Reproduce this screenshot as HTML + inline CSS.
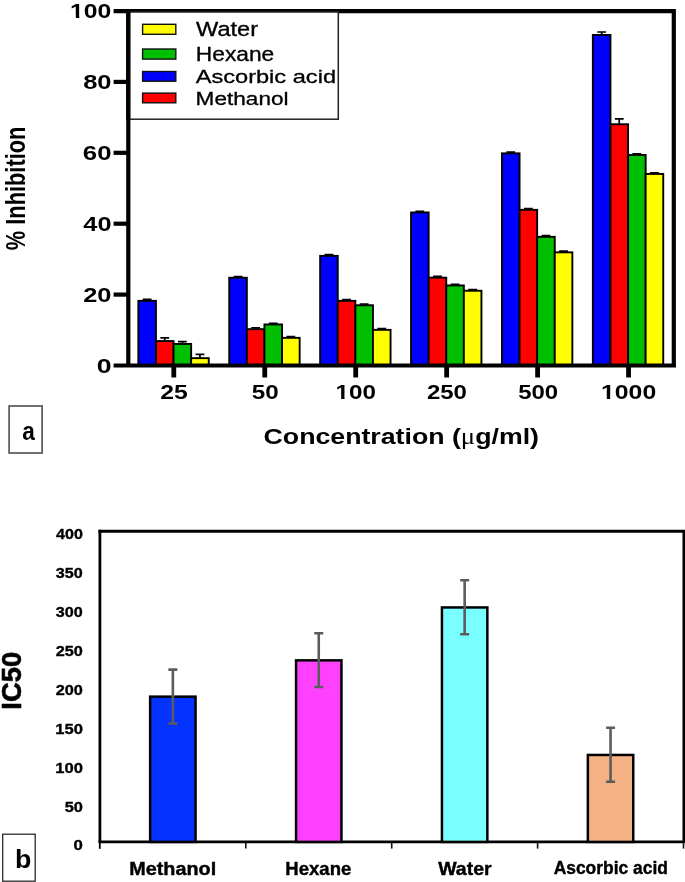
<!DOCTYPE html>
<html><head><meta charset="utf-8"><title>chart</title>
<style>html,body{margin:0;padding:0;background:#fff;}svg{display:block;will-change:transform;}text{font-family:"Liberation Sans",sans-serif;}</style>
</head><body>
<svg width="685" height="882" viewBox="0 0 685 882">
<rect width="685" height="882" fill="#fff"/>
<rect x="138.35" y="300.85" width="17.60" height="64.65" fill="#0000FF" stroke="#000" stroke-width="1.9"/>
<rect x="155.95" y="341.05" width="17.60" height="24.45" fill="#FF0000" stroke="#000" stroke-width="1.9"/>
<rect x="173.55" y="343.95" width="17.60" height="21.55" fill="#00BE00" stroke="#000" stroke-width="1.9"/>
<rect x="191.15" y="358.15" width="17.60" height="7.35" fill="#FFFF00" stroke="#000" stroke-width="1.9"/>
<path d="M147.15 300.85V299.40M142.75 299.40H151.55" stroke="#000" stroke-width="1.7" fill="none"/>
<path d="M164.75 341.05V337.80M160.35 337.80H169.15" stroke="#000" stroke-width="1.7" fill="none"/>
<path d="M182.35 343.95V341.70M177.95 341.70H186.75" stroke="#000" stroke-width="1.7" fill="none"/>
<path d="M199.95 358.15V354.30M195.55 354.30H204.35" stroke="#000" stroke-width="1.7" fill="none"/>
<rect x="229.25" y="277.75" width="17.60" height="87.75" fill="#0000FF" stroke="#000" stroke-width="1.9"/>
<rect x="246.85" y="329.15" width="17.60" height="36.35" fill="#FF0000" stroke="#000" stroke-width="1.9"/>
<rect x="264.45" y="324.45" width="17.60" height="41.05" fill="#00BE00" stroke="#000" stroke-width="1.9"/>
<rect x="282.05" y="337.85" width="17.60" height="27.65" fill="#FFFF00" stroke="#000" stroke-width="1.9"/>
<path d="M238.05 277.75V276.55M233.65 276.55H242.45" stroke="#000" stroke-width="1.7" fill="none"/>
<path d="M255.65 329.15V327.95M251.25 327.95H260.05" stroke="#000" stroke-width="1.7" fill="none"/>
<path d="M273.25 324.45V323.25M268.85 323.25H277.65" stroke="#000" stroke-width="1.7" fill="none"/>
<path d="M290.85 337.85V336.65M286.45 336.65H295.25" stroke="#000" stroke-width="1.7" fill="none"/>
<rect x="320.15" y="255.85" width="17.60" height="109.65" fill="#0000FF" stroke="#000" stroke-width="1.9"/>
<rect x="337.75" y="300.85" width="17.60" height="64.65" fill="#FF0000" stroke="#000" stroke-width="1.9"/>
<rect x="355.35" y="305.25" width="17.60" height="60.25" fill="#00BE00" stroke="#000" stroke-width="1.9"/>
<rect x="372.95" y="329.85" width="17.60" height="35.65" fill="#FFFF00" stroke="#000" stroke-width="1.9"/>
<path d="M328.95 255.85V254.65M324.55 254.65H333.35" stroke="#000" stroke-width="1.7" fill="none"/>
<path d="M346.55 300.85V299.65M342.15 299.65H350.95" stroke="#000" stroke-width="1.7" fill="none"/>
<path d="M364.15 305.25V304.05M359.75 304.05H368.55" stroke="#000" stroke-width="1.7" fill="none"/>
<path d="M381.75 329.85V328.65M377.35 328.65H386.15" stroke="#000" stroke-width="1.7" fill="none"/>
<rect x="411.05" y="212.45" width="17.60" height="153.05" fill="#0000FF" stroke="#000" stroke-width="1.9"/>
<rect x="428.65" y="277.65" width="17.60" height="87.85" fill="#FF0000" stroke="#000" stroke-width="1.9"/>
<rect x="446.25" y="285.45" width="17.60" height="80.05" fill="#00BE00" stroke="#000" stroke-width="1.9"/>
<rect x="463.85" y="290.75" width="17.60" height="74.75" fill="#FFFF00" stroke="#000" stroke-width="1.9"/>
<path d="M419.85 212.45V211.25M415.45 211.25H424.25" stroke="#000" stroke-width="1.7" fill="none"/>
<path d="M437.45 277.65V276.45M433.05 276.45H441.85" stroke="#000" stroke-width="1.7" fill="none"/>
<path d="M455.05 285.45V284.25M450.65 284.25H459.45" stroke="#000" stroke-width="1.7" fill="none"/>
<path d="M472.65 290.75V289.55M468.25 289.55H477.05" stroke="#000" stroke-width="1.7" fill="none"/>
<rect x="501.95" y="153.35" width="17.60" height="212.15" fill="#0000FF" stroke="#000" stroke-width="1.9"/>
<rect x="519.55" y="209.85" width="17.60" height="155.65" fill="#FF0000" stroke="#000" stroke-width="1.9"/>
<rect x="537.15" y="236.85" width="17.60" height="128.65" fill="#00BE00" stroke="#000" stroke-width="1.9"/>
<rect x="554.75" y="252.35" width="17.60" height="113.15" fill="#FFFF00" stroke="#000" stroke-width="1.9"/>
<path d="M510.75 153.35V152.15M506.35 152.15H515.15" stroke="#000" stroke-width="1.7" fill="none"/>
<path d="M528.35 209.85V208.65M523.95 208.65H532.75" stroke="#000" stroke-width="1.7" fill="none"/>
<path d="M545.95 236.85V235.65M541.55 235.65H550.35" stroke="#000" stroke-width="1.7" fill="none"/>
<path d="M563.55 252.35V251.15M559.15 251.15H567.95" stroke="#000" stroke-width="1.7" fill="none"/>
<rect x="592.85" y="34.95" width="17.60" height="330.55" fill="#0000FF" stroke="#000" stroke-width="1.9"/>
<rect x="610.45" y="124.25" width="17.60" height="241.25" fill="#FF0000" stroke="#000" stroke-width="1.9"/>
<rect x="628.05" y="154.95" width="17.60" height="210.55" fill="#00BE00" stroke="#000" stroke-width="1.9"/>
<rect x="645.65" y="173.95" width="17.60" height="191.55" fill="#FFFF00" stroke="#000" stroke-width="1.9"/>
<path d="M601.65 34.95V32.00M597.25 32.00H606.05" stroke="#000" stroke-width="1.7" fill="none"/>
<path d="M619.25 124.25V118.90M614.85 118.90H623.65" stroke="#000" stroke-width="1.7" fill="none"/>
<path d="M636.85 154.95V153.75M632.45 153.75H641.25" stroke="#000" stroke-width="1.7" fill="none"/>
<path d="M654.45 173.95V172.75M650.05 172.75H658.85" stroke="#000" stroke-width="1.7" fill="none"/>
<path d="M113.6 11.1H673.8V365.5M128.3 9V367.6M113.6 365.5H676" stroke="#000" stroke-width="4.2" fill="none"/>
<path d="M113.6 294.60H128" stroke="#000" stroke-width="4.2"/>
<path d="M113.6 223.70H128" stroke="#000" stroke-width="4.2"/>
<path d="M113.6 152.80H128" stroke="#000" stroke-width="4.2"/>
<path d="M113.6 81.90H128" stroke="#000" stroke-width="4.2"/>
<path d="M173.80 365.5V377.5" stroke="#000" stroke-width="4.8"/>
<path d="M264.75 365.5V377.5" stroke="#000" stroke-width="4.8"/>
<path d="M355.70 365.5V377.5" stroke="#000" stroke-width="4.8"/>
<path d="M446.65 365.5V377.5" stroke="#000" stroke-width="4.8"/>
<path d="M537.60 365.5V377.5" stroke="#000" stroke-width="4.8"/>
<path d="M628.55 365.5V377.5" stroke="#000" stroke-width="4.8"/>
<rect x="129.5" y="12" width="208.8" height="107.2" fill="#fff" stroke="#222" stroke-width="1.5"/>
<path d="M128.3 9V120" stroke="#000" stroke-width="4.2"/>
<rect x="142.6" y="24.30" width="33.2" height="10.00" fill="#FFFF00" stroke="#111" stroke-width="1.4"/>
<rect x="142.6" y="49.00" width="33.2" height="10.10" fill="#00BE00" stroke="#111" stroke-width="1.4"/>
<rect x="142.6" y="71.50" width="33.2" height="9.70" fill="#0000FF" stroke="#111" stroke-width="1.4"/>
<rect x="142.6" y="93.10" width="33.2" height="9.70" fill="#FF0000" stroke="#111" stroke-width="1.4"/>
<rect x="9.1" y="406" width="33" height="47" fill="none" stroke="#595959" stroke-width="1.7"/>
<path d="M98.5 531.3H684V842" stroke="#000" stroke-width="3" fill="none"/>
<path d="M99.9 529.8V842" stroke="#000" stroke-width="2.8" fill="none"/>
<path d="M98.5 841.9H685" stroke="#000" stroke-width="2.8" fill="none"/>
<path d="M99.8 841.9V848.8" stroke="#000" stroke-width="1.8" fill="none"/>
<path d="M245.8 841.9V848.6" stroke="#111" stroke-width="1.6"/>
<path d="M391.7 841.9V848.6" stroke="#111" stroke-width="1.6"/>
<path d="M537.6 841.9V848.6" stroke="#111" stroke-width="1.6"/>
<path d="M683.5 841.9V848.6" stroke="#111" stroke-width="1.6"/>
<rect x="150.15" y="696.65" width="45.40" height="145.25" fill="#0433FF" stroke="#000" stroke-width="2.5"/>
<rect x="296.05" y="660.35" width="45.40" height="181.55" fill="#FF40FF" stroke="#000" stroke-width="2.5"/>
<rect x="441.95" y="607.45" width="45.40" height="234.45" fill="#79FFFF" stroke="#000" stroke-width="2.5"/>
<rect x="587.85" y="754.95" width="45.40" height="86.95" fill="#F4B183" stroke="#000" stroke-width="2.5"/>
<path d="M172.85 669.6V723.5M168.35 669.6H177.35M168.35 723.5H177.35" stroke="#5c5c5c" stroke-width="2.6" fill="none"/>
<path d="M318.75 633.3V687.0M314.25 633.3H323.25M314.25 687.0H323.25" stroke="#5c5c5c" stroke-width="2.6" fill="none"/>
<path d="M464.65 580.2V634.2M460.15 580.2H469.15M460.15 634.2H469.15" stroke="#5c5c5c" stroke-width="2.6" fill="none"/>
<path d="M610.55 727.8V781.7M606.05 727.8H615.05M606.05 781.7H615.05" stroke="#5c5c5c" stroke-width="2.6" fill="none"/>
<rect x="2.7" y="834.2" width="32.5" height="47" fill="none" stroke="#2a2a2a" stroke-width="1.3"/>
<g transform="matrix(0.24713 0 0 0.20563 70.117 18.194)"><text font-size="100" fill="#000"><tspan font-family='"Liberation Sans", sans-serif' font-weight="bold">100</tspan></text><rect x="3" y="-11.6" width="20.25" height="13" fill="#fff"/><rect x="37.05" y="-11.6" width="19" height="13" fill="#fff"/></g>
<text transform="matrix(0.25481 0 0 0.20563 83.136 89.094)" font-size="100" fill="#000"><tspan font-family='"Liberation Sans", sans-serif' font-weight="bold">80</tspan></text>
<text transform="matrix(0.25728 0 0 0.20563 82.871 159.994)" font-size="100" fill="#000"><tspan font-family='"Liberation Sans", sans-serif' font-weight="bold">60</tspan></text>
<text transform="matrix(0.25333 0 0 0.20563 83.293 230.894)" font-size="100" fill="#000"><tspan font-family='"Liberation Sans", sans-serif' font-weight="bold">40</tspan></text>
<text transform="matrix(0.25385 0 0 0.20563 83.238 301.794)" font-size="100" fill="#000"><tspan font-family='"Liberation Sans", sans-serif' font-weight="bold">20</tspan></text>
<text transform="matrix(0.26596 0 0 0.20563 96.836 372.694)" font-size="100" fill="#000"><tspan font-family='"Liberation Sans", sans-serif' font-weight="bold">0</tspan></text>
<text transform="matrix(0.24762 0 0 0.20986 160.357 398.990)" font-size="100" fill="#000"><tspan font-family='"Liberation Sans", sans-serif' font-weight="bold">25</tspan></text>
<text transform="matrix(0.24231 0 0 0.20986 251.673 398.990)" font-size="100" fill="#000"><tspan font-family='"Liberation Sans", sans-serif' font-weight="bold">50</tspan></text>
<g transform="matrix(0.24204 0 0 0.20986 335.548 398.990)"><text font-size="100" fill="#000"><tspan font-family='"Liberation Sans", sans-serif' font-weight="bold">100</tspan></text><rect x="3" y="-11.6" width="20.25" height="13" fill="#fff"/><rect x="37.05" y="-11.6" width="19" height="13" fill="#fff"/></g>
<text transform="matrix(0.24000 0 0 0.20986 426.880 398.990)" font-size="100" fill="#000"><tspan font-family='"Liberation Sans", sans-serif' font-weight="bold">250</tspan></text>
<text transform="matrix(0.24000 0 0 0.20986 518.180 398.990)" font-size="100" fill="#000"><tspan font-family='"Liberation Sans", sans-serif' font-weight="bold">500</tspan></text>
<g transform="matrix(0.24811 0 0 0.20986 601.011 398.990)"><text font-size="100" fill="#000"><tspan font-family='"Liberation Sans", sans-serif' font-weight="bold">1000</tspan></text><rect x="3" y="-11.6" width="20.25" height="13" fill="#fff"/><rect x="37.05" y="-11.6" width="19" height="13" fill="#fff"/></g>
<text transform="matrix(0 -0.21813 0.27568 0 25.424 250.154)" font-size="100" fill="#000"><tspan font-family='"Liberation Sans", sans-serif' font-weight="bold">% Inhibition</tspan></text>
<text transform="matrix(0.26732 0 0 0.22128 263.531 444.253)" font-size="100" fill="#000"><tspan font-family='"Liberation Sans", sans-serif' font-weight="bold">Concentration (</tspan><tspan font-family='"Liberation Serif", serif' font-weight="normal">μ</tspan><tspan font-family='"Liberation Sans", sans-serif' font-weight="bold">g/ml)</tspan></text>
<text transform="matrix(0.23588 0 0 0.19861 196.000 36.103)" font-size="100" fill="#000"><tspan font-family='"Liberation Sans", sans-serif' font-weight="normal" stroke="#000" stroke-width="1.6">Water</tspan></text>
<text transform="matrix(0.22754 0 0 0.19444 195.807 60.611)" font-size="100" fill="#000"><tspan font-family='"Liberation Sans", sans-serif' font-weight="normal" stroke="#000" stroke-width="1.6">Hexane</tspan></text>
<text transform="matrix(0.23627 0 0 0.18816 195.636 83.324)" font-size="100" fill="#000"><tspan font-family='"Liberation Sans", sans-serif' font-weight="normal" stroke="#000" stroke-width="1.6">Ascorbic acid</tspan></text>
<text transform="matrix(0.22607 0 0 0.18947 195.618 105.021)" font-size="100" fill="#000"><tspan font-family='"Liberation Sans", sans-serif' font-weight="normal" stroke="#000" stroke-width="1.6">Methanol</tspan></text>
<text transform="matrix(0.22642 0 0 0.26545 22.221 439.835)" font-size="100" fill="#000"><tspan font-family='"Liberation Sans", sans-serif' font-weight="bold">a</tspan></text>
<text transform="matrix(0.16800 0 0 0.15479 73.496 850.390)" font-size="100" fill="#000" stroke="#000" stroke-width="2.2"><tspan font-family='"Liberation Sans", sans-serif' font-weight="bold">0</tspan></text>
<text transform="matrix(0.16415 0 0 0.15479 64.672 811.515)" font-size="100" fill="#000" stroke="#000" stroke-width="2.2"><tspan font-family='"Liberation Sans", sans-serif' font-weight="bold">50</tspan></text>
<text transform="matrix(0.16604 0 0 0.15479 55.170 772.640)" font-size="100" fill="#000" stroke="#000" stroke-width="2.2"><tspan font-family='"Liberation Sans", sans-serif' font-weight="bold">100</tspan></text>
<text transform="matrix(0.16604 0 0 0.15479 55.170 733.765)" font-size="100" fill="#000" stroke="#000" stroke-width="2.2"><tspan font-family='"Liberation Sans", sans-serif' font-weight="bold">150</tspan></text>
<text transform="matrix(0.16296 0 0 0.15479 55.674 694.890)" font-size="100" fill="#000" stroke="#000" stroke-width="2.2"><tspan font-family='"Liberation Sans", sans-serif' font-weight="bold">200</tspan></text>
<text transform="matrix(0.16296 0 0 0.15479 55.674 656.015)" font-size="100" fill="#000" stroke="#000" stroke-width="2.2"><tspan font-family='"Liberation Sans", sans-serif' font-weight="bold">250</tspan></text>
<text transform="matrix(0.16196 0 0 0.15479 55.838 617.140)" font-size="100" fill="#000" stroke="#000" stroke-width="2.2"><tspan font-family='"Liberation Sans", sans-serif' font-weight="bold">300</tspan></text>
<text transform="matrix(0.16196 0 0 0.15479 55.838 578.265)" font-size="100" fill="#000" stroke="#000" stroke-width="2.2"><tspan font-family='"Liberation Sans", sans-serif' font-weight="bold">350</tspan></text>
<text transform="matrix(0.16098 0 0 0.15479 56.000 539.390)" font-size="100" fill="#000" stroke="#000" stroke-width="2.2"><tspan font-family='"Liberation Sans", sans-serif' font-weight="bold">400</tspan></text>
<text transform="matrix(0.19813 0 0 0.17632 129.211 874.847)" font-size="100" fill="#000" stroke="#000" stroke-width="2.2"><tspan font-family='"Liberation Sans", sans-serif' font-weight="bold">Methanol</tspan></text>
<text transform="matrix(0.18563 0 0 0.18333 285.286 874.833)" font-size="100" fill="#000" stroke="#000" stroke-width="2.2"><tspan font-family='"Liberation Sans", sans-serif' font-weight="bold">Hexane</tspan></text>
<text transform="matrix(0.19491 0 0 0.18333 438.195 874.833)" font-size="100" fill="#000" stroke="#000" stroke-width="2.2"><tspan font-family='"Liberation Sans", sans-serif' font-weight="bold">Water</tspan></text>
<text transform="matrix(0.17442 0 0 0.17500 553.626 874.450)" font-size="100" fill="#000" stroke="#000" stroke-width="2.2"><tspan font-family='"Liberation Sans", sans-serif' font-weight="bold">Ascorbic acid</tspan></text>
<text transform="matrix(0 -0.27376 0.27945 0 20.741 709.643)" font-size="100" fill="#000" stroke="#000" stroke-width="2.2"><tspan font-family='"Liberation Sans", sans-serif' font-weight="bold">IC50</tspan></text>
<text transform="matrix(0.26800 0 0 0.26164 14.924 867.800)" font-size="100" fill="#000"><tspan font-family='"Liberation Sans", sans-serif' font-weight="bold">b</tspan></text>
</svg>
</body></html>
